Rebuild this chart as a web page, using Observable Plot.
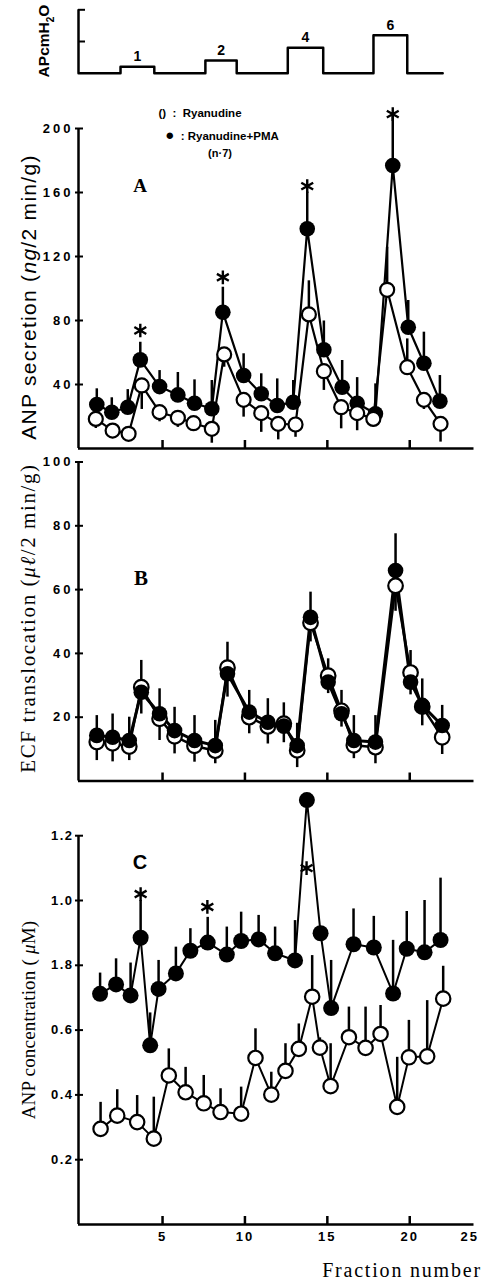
<!DOCTYPE html>
<html><head><meta charset="utf-8">
<script src="https://cdn.jsdelivr.net/npm/d3@7"></script>
<script src="https://cdn.jsdelivr.net/npm/@observablehq/plot@0.6"></script>
<style>
html,body{margin:0;padding:0;background:#fff;}
#root{position:relative;width:487px;height:1284px;overflow:hidden;font-family:"Liberation Sans",Arial,sans-serif;color:#000;background:#fff;}
#root svg{position:absolute;left:0;overflow:visible;background:transparent;}
.lbl{position:absolute;white-space:nowrap;line-height:1;transform:translate(-50%,-50%);}
.rot{transform:translate(-50%,-50%) rotate(-90deg);}
</style></head><body><div id="root"></div>
<script>
// ---------- shared x scale ----------
const xDomain = [-0.1, 23.9];
const xTicks = [5, 10, 15, 20];
const xLastLabel = "25";

// ---------- pressure protocol (cmH2O) ----------
const pulseStart = [2.45, 7.6, 12.6, 17.8];
const pulseEnd = [4.5, 9.5, 14.75, 19.85];
const pulseLevel = [1, 2, 4, 6];
const pressureEnd = 22.0;
const pressureTicks = [5, 10];

// ---------- Panel A: ANP secretion ----------
const yTicksA = [40, 80, 120, 160, 200];
const yTickLabelsA = ["40", "80", "120", "160", "200"];
const xFilledA = [1.01, 1.92, 2.89, 3.65, 4.82, 5.93, 6.94, 7.99, 8.66, 9.92, 10.99, 11.96, 12.93, 13.78, 14.79, 15.9, 16.81, 17.92, 18.97, 19.91, 20.86, 21.83];
const filledA = [27.5, 22.7, 25.8, 55.4, 38.7, 33.5, 28.3, 24.8, 85.2, 45.6, 34.2, 26.9, 28.9, 137.3, 61.7, 38.3, 28.3, 21.7, 176.9, 75.8, 53.3, 29.6];
const errFilledA = [9.8, 9, 11, 11, 10, 14, 14.6, 17.7, 15.6, 13.6, 12.5, 16.6, 13.6, 23, 18, 16.7, 16, 18.7, 32, 16.7, 19.4, 16];
const xOpenA = [0.95, 1.97, 2.94, 3.74, 4.82, 5.93, 6.88, 7.99, 8.74, 9.92, 10.99, 12.02, 13.07, 13.88, 14.79, 15.84, 16.81, 17.79, 18.63, 19.85, 20.86, 21.87];
const openA = [18.5, 11.2, 9.2, 39.4, 22.7, 19.2, 15.8, 12.3, 58.8, 30.4, 22.1, 15.4, 15, 83.8, 48.3, 25.8, 22.1, 18.5, 99.2, 50.8, 30.4, 15.4];
const errOpenA = [-6, -5, -4, -15, -6, -6, -4.5, -9, -8, -10.8, -12, -10, -8, 21, -12, -13.5, -11, -5, 26.6, 17.7, -6, -11.4];
const starXA = [3.65, 8.66, 13.78, 18.97];
const starYA = [73.75, 107, 164, 209];

// ---------- Panel B: ECF translocation ----------
const yTicksB = [20, 40, 60, 80, 100];
const yTickLabelsB = ["20", "40", "60", "80", "100"];
const xB = [1.01, 1.97, 2.98, 3.71, 4.82, 5.73, 6.94, 8.2, 8.94, 10.26, 11.39, 12.36, 13.17, 13.98, 15.05, 15.86, 16.61, 17.92, 19.14, 20.05, 20.76, 21.97];
const filledB = [14.3, 13.7, 12.7, 27.8, 21.1, 15.8, 12.7, 11.1, 33.6, 21.6, 18.4, 17.2, 11.1, 51.3, 31, 21.1, 12.7, 12.2, 66, 31, 23.7, 17.4];
const errFilledB = [6.2, 7.3, 7.3, 10, 7.8, 7.3, 7.8, 7.9, 9.9, 6.8, 7.4, 7.3, 7, 7.9, 7.3, 7.3, 7.8, 8.3, 11.5, 9.9, 8.3, 6.3];
const openB = [12.2, 11.8, 10.8, 29.4, 19.5, 14, 11, 9.5, 35.5, 20, 17.1, 18, 9.6, 49.6, 33, 22, 11.2, 10.6, 61.2, 34, 23.3, 13.7];
const errOpenB = [-5.8, -5.8, -4.4, -8.4, -6.8, -5.5, -5.1, -4.1, -9.2, -5.2, -5.5, -6, -5.4, -6, -5.6, -5.1, -4.2, -5.2, -8, -7, -6, -5.4];

// ---------- Panel C: ANP concentration ----------
const yTicksC = [0.2, 0.4, 0.6, 0.8, 1.0, 1.2];
const yTickLabelsC = ["0.2", "0.4", "0.6", "1.8", "1.0", "1.2"];
const xFilledC = [1.21, 2.18, 3.06, 3.67, 4.25, 4.76, 5.81, 6.69, 7.74, 8.9, 9.77, 10.83, 11.83, 13.04, 13.76, 14.59, 15.23, 16.59, 17.82, 18.99, 19.82, 20.9, 21.87];
const filledC = [0.712, 0.741, 0.707, 0.885, 0.553, 0.727, 0.775, 0.845, 0.87, 0.833, 0.875, 0.88, 0.837, 0.815, 1.31, 0.899, 0.668, 0.865, 0.855, 0.713, 0.851, 0.84, 0.878];
const errFilledC = [0.064, 0.079, 0.1, 0.115, 0.1, 0.088, 0.081, 0.068, 0.078, 0.085, 0.089, 0.074, 0.081, 0.123, 0, 0.02, 0.147, 0.109, 0.096, 0.164, 0.115, 0.16, 0.191];
const xOpenC = [1.24, 2.25, 3.46, 4.47, 5.38, 6.4, 7.5, 8.52, 9.77, 10.64, 11.6, 12.46, 13.27, 14.08, 14.55, 15.2, 16.31, 17.32, 18.23, 19.24, 19.95, 21.06, 22.03];
const openC = [0.295, 0.336, 0.316, 0.265, 0.46, 0.408, 0.374, 0.347, 0.342, 0.514, 0.401, 0.474, 0.542, 0.703, 0.546, 0.427, 0.578, 0.545, 0.588, 0.363, 0.516, 0.519, 0.697];
const errOpenC = [0.082, 0.08, 0.082, 0.128, 0.082, 0.077, 0.086, 0.072, 0.082, 0.09, 0.069, 0.084, 0.077, 0.127, 0.03, 0.131, 0.093, 0.126, 0.088, 0.153, 0.114, 0.172, 0.1];
const starXC = [3.67, 7.72, 13.74];
const starYC = [1.02, 0.98, 1.10];

// ---------- helpers ----------
const root = document.getElementById("root");
const W = 487, ML = 78, MR = 13.5;
const FONT = "Liberation Sans, Arial, sans-serif";
const rows = (xs, ys, es) => xs.map((x, i) => ({x, y: ys[i], e: es ? es[i] : 0}));
const stars = (xs, ys) => xs.map((x, i) => ({x, y: ys[i]}));

function place(svg, top, letterSpacing) {
  svg.style.top = top + "px";
  if (letterSpacing != null) {
    svg.querySelectorAll('g[aria-label="y-axis tick label"] text').forEach(t => t.style.letterSpacing = letterSpacing);
    svg.querySelectorAll('g[aria-label="x-axis tick label"] text').forEach(t => t.style.letterSpacing = "2px");
  }
  root.appendChild(svg);
}
function label(html, cx, cy, css, rotate) {
  const d = document.createElement("div");
  d.className = "lbl" + (rotate ? " rot" : "");
  d.innerHTML = html;
  d.style.left = cx + "px";
  d.style.top = cy + "px";
  d.style.cssText += css;
  root.appendChild(d);
}

function axisMarks(yDomain, yTicks, yLabels, innerW, innerH) {
  const fmt = new Map(yTicks.map((t, i) => [t, yLabels[i]]));
  return [
    Plot.ruleX([xDomain[0]], {y1: yDomain[0], y2: yDomain[1], strokeWidth: 2.5}),
    Plot.ruleY([yDomain[0]], {x1: xDomain[0], x2: xDomain[1], strokeWidth: 2.5}),
    Plot.tickX(xTicks, {x: d => d, insetTop: innerH - 8, strokeWidth: 2.5}),
    Plot.tickY(yTicks, {y: d => d, insetLeft: -3, insetRight: innerW - 5, strokeWidth: 2}),
    Plot.axisY(yTicks, {tickSize: 0, tickPadding: 5, label: null, tickFormat: d => fmt.get(d), fontSize: 13, fontWeight: "bold", fontFamily: FONT})
  ];
}

// ---------- pressure panel ----------
{
  const H = 85, mt = 9.3, mb = 12.3;
  const pRows = [{x: xDomain[0], y: 0}];
  pulseStart.forEach((s, i) => { pRows.push({x: s, y: pulseLevel[i]}); pRows.push({x: pulseEnd[i], y: 0}); });
  pRows.push({x: pressureEnd, y: 0});
  const pLabels = pulseStart.map((s, i) => ({x: (s + pulseEnd[i]) / 2, y: pulseLevel[i], t: String(pulseLevel[i])}));
  const svg = Plot.plot({
    width: W, height: H, marginLeft: ML, marginRight: MR, marginTop: mt, marginBottom: mb,
    x: {domain: xDomain, axis: null}, y: {domain: [0, 10], axis: null},
    marks: [
      Plot.ruleX([xDomain[0]], {y1: 0, y2: 10, strokeWidth: 2.5}),
      Plot.tickY(pressureTicks, {y: d => d, insetRight: W - ML - MR - 7, strokeWidth: 2}),
      Plot.line(pRows, {x: "x", y: "y", curve: "step-after", strokeWidth: 2.5}),
      Plot.text(pLabels, {x: "x", y: "y", text: "t", dy: -10, fontSize: 14, fontWeight: "bold", fontFamily: FONT})
    ]
  });
  place(svg, 0);
}

// ---------- Panel A ----------
{
  const H = 365, mt = 38, mb = 7, yDom = [0, 200];
  const innerW = W - ML - MR, innerH = H - mt - mb;
  const f = rows(xFilledA, filledA, errFilledA), o = rows(xOpenA, openA, errOpenA);
  const svg = Plot.plot({
    width: W, height: H, marginLeft: ML, marginRight: MR, marginTop: mt, marginBottom: mb,
    x: {domain: xDomain, axis: null}, y: {domain: yDom},
    marks: [
      ...axisMarks(yDom, yTicksA, yTickLabelsA, innerW, innerH),
      Plot.line(f, {x: "x", y: "y", strokeWidth: 2.2}),
      Plot.line(o, {x: "x", y: "y", strokeWidth: 2.2}),
      Plot.ruleX(f, {x: "x", y1: "y", y2: d => d.y + d.e, strokeWidth: 2.5}),
      Plot.ruleX(o, {x: "x", y1: "y", y2: d => d.y + d.e, strokeWidth: 2.5}),
      Plot.dot(f, {x: "x", y: "y", r: 7.8, fill: "black"}),
      Plot.dot(o, {x: "x", y: "y", r: 7, fill: "white", stroke: "black", strokeWidth: 2.2}),
      Plot.dot(stars(starXA, starYA), {x: "x", y: "y", symbol: "asterisk", r: 6.5, stroke: "black", strokeWidth: 2.4})
    ]
  });
  place(svg, 90, "3px");
}

// ---------- Panel B ----------
{
  const H = 340, mt = 11.5, mb = 9.5, yDom = [0, 100];
  const innerW = W - ML - MR, innerH = H - mt - mb;
  const f = rows(xB, filledB, errFilledB), o = rows(xB, openB, errOpenB);
  const svg = Plot.plot({
    width: W, height: H, marginLeft: ML, marginRight: MR, marginTop: mt, marginBottom: mb,
    x: {domain: xDomain, axis: null}, y: {domain: yDom},
    marks: [
      ...axisMarks(yDom, yTicksB, yTickLabelsB, innerW, innerH),
      Plot.line(o, {x: "x", y: "y", strokeWidth: 2.5}),
      Plot.line(f, {x: "x", y: "y", strokeWidth: 3}),
      Plot.ruleX(o, {x: "x", y1: "y", y2: d => d.y + d.e, strokeWidth: 2.5}),
      Plot.ruleX(f, {x: "x", y1: "y", y2: d => d.y + d.e, strokeWidth: 2.5}),
      Plot.dot(o, {x: "x", y: "y", r: 7.3, fill: "white", stroke: "black", strokeWidth: 2.2}),
      Plot.dot(f, {x: "x", y: "y", r: 7.8, fill: "black"})
    ]
  });
  place(svg, 450, "3px");
}

// ---------- Panel C ----------
{
  const H = 460, mt = 50.2, mb = 21, yDom = [0, 1.2];
  const innerW = W - ML - MR, innerH = H - mt - mb;
  const f = rows(xFilledC, filledC, errFilledC), o = rows(xOpenC, openC, errOpenC);
  const svg = Plot.plot({
    width: W, height: H, marginLeft: ML, marginRight: MR, marginTop: mt, marginBottom: mb,
    x: {domain: xDomain}, y: {domain: yDom},
    marks: [
      ...axisMarks(yDom, yTicksC, yTickLabelsC, innerW, innerH),
      Plot.axisX(xTicks, {tickSize: 0, tickPadding: 7, label: null, fontSize: 13, fontWeight: "bold", fontFamily: FONT}),
      Plot.text([xLastLabel], {frameAnchor: "bottom-right", dx: 5, dy: 7.5, lineAnchor: "top", fontSize: 13, fontWeight: "bold", fontFamily: FONT}),
      Plot.line(f, {x: "x", y: "y", strokeWidth: 2}),
      Plot.line(o, {x: "x", y: "y", strokeWidth: 2}),
      Plot.ruleX(f, {x: "x", y1: "y", y2: d => d.y + d.e, strokeWidth: 2.5}),
      Plot.ruleX(o, {x: "x", y1: "y", y2: d => d.y + d.e, strokeWidth: 2.5}),
      Plot.dot(f, {x: "x", y: "y", r: 8, fill: "black"}),
      Plot.dot(o, {x: "x", y: "y", r: 7.2, fill: "white", stroke: "black", strokeWidth: 2.2}),
      Plot.dot(stars(starXC, starYC), {x: "x", y: "y", symbol: "asterisk", r: 6.5, stroke: "black", strokeWidth: 2.4})
    ]
  });
  place(svg, 785, "1.5px");
  svg.querySelectorAll('g[aria-label="text"] text').forEach(t => t.style.letterSpacing = "2px");
}

// ---------- text labels ----------
const sans = "font-family:'Liberation Sans',Arial,sans-serif;";
const serif = "font-family:'Liberation Serif','Times New Roman',serif;";
label("APcmH<sub style='font-size:10px'>2</sub>O", 46, 41, sans + "font-size:15.5px;font-weight:bold;", true);
label("() &nbsp;:&nbsp; Ryanudine", 200, 114, sans + "font-size:11.5px;font-weight:bold;");
label("<span style='font-size:15px'>●</span> &nbsp;: Ryanudine+PMA", 222, 135, sans + "font-size:11.5px;font-weight:bold;");
label("(n·7)", 220, 153, sans + "font-size:11px;font-weight:bold;");
label("A", 140, 185, serif + "font-size:19px;font-weight:bold;");
label("B", 141, 578, serif + "font-size:21px;font-weight:bold;");
label("C", 140, 862, sans + "font-size:20px;font-weight:bold;");
label("ANP secretion (<i>ng</i>/2 min/g)", 28, 297, sans + "font-size:21px;letter-spacing:1.3px;", true);
label("ECF translocation (<i>μℓ</i>/2 min/g)", 28, 618, serif + "font-size:21px;letter-spacing:1.6px;", true);
label("ANP concentration ( <i>μ</i>M)", 28, 1020, serif + "font-size:19px;letter-spacing:0.2px;", true);
label("Fraction number", 402, 1270, serif + "font-size:20px;letter-spacing:1.8px;");
</script>
</body></html>
